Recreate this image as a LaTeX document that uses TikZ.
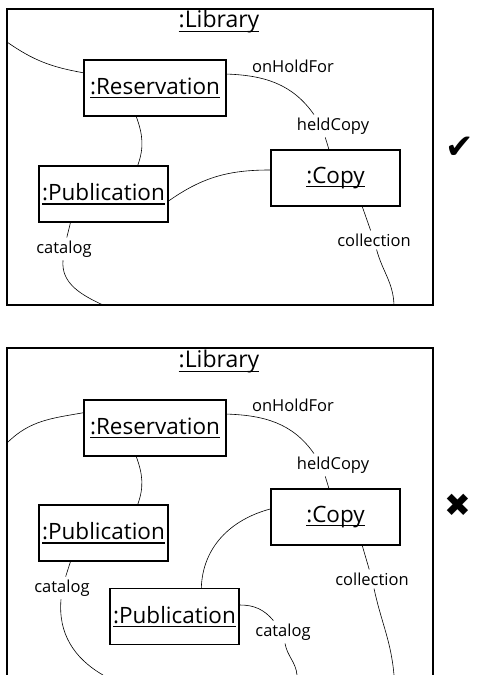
\documentclass[tikz,border=0pt]{standalone}
\usepackage{fontspec}
\setmainfont{Open Sans}
\newfontfamily\symfont{DejaVu Sans}
\usetikzlibrary{positioning, calc}

\newcommand{\objul}[1]{\setbox0=\hbox{#1}\rlap{\rule[-4pt]{\wd0}{1.4pt}}\box0}

\begin{document}
\begin{tikzpicture}[
  x=1pt, y=-1pt,
  frame/.style={line width=1.6pt},
  obj/.style={rectangle, draw, line width=1.5pt, minimum height=56pt, inner sep=0pt, font=\fontsize{22.5}{26}\selectfont},
  title/.style={font=\fontsize{23}{26}\selectfont, inner sep=0pt},
  role/.style={font=\fontsize{16.5}{19}\selectfont, inner sep=3pt},
  link/.style={line width=0.6pt}
]
  \useasboundingbox (0,0) rectangle (478,675);

  % Good model
  \draw[frame] (7,9) rectangle (433,305);
  \node[title] (lib1) at (219,22) {\objul{:Library}};

  \node[obj, minimum width=142pt] (res1) at (155,88) {\objul{:Reservation}};
  \node[obj, minimum width=129pt] (pub1) at (103.5,194) {\objul{:Publication}};
  \node[obj, minimum width=129pt] (copy1) at (335.5,178) {\objul{:Copy}};

  \node[role] (hold1) at (293,66) {onHoldFor};
  \node[role] (held1) at (333,126) {heldCopy};
  \node[role] (cat1) at (64,249) {catalog};
  \node[role] (coll1) at (374,240) {collection};

  \coordinate (e1) at (7,42);
  \coordinate (b1) at (103,305);
  \coordinate (b2) at (394,305);

  \node[font=\symfont\fontsize{34}{36}\selectfont] (ok) at (460,148) {✔};

  % Bad model
  \draw[frame] (7,675) -- (7,348) -- (433,348) -- (433,675);
  \node[title] (lib2) at (219,362) {\objul{:Library}};

  \node[obj, minimum width=142pt] (res2) at (155,428) {\objul{:Reservation}};
  \node[obj, minimum width=129pt] (pub2) at (103.5,533) {\objul{:Publication}};
  \node[obj, minimum width=129pt] (copy2) at (335.5,517) {\objul{:Copy}};
  \node[obj, minimum width=129pt] (pub3) at (174.5,616.5) {\objul{:Publication}};

  \node[role] (hold2) at (293,405) {onHoldFor};
  \node[role] (held2) at (333,465) {heldCopy};
  \node[role] (cat2) at (62,588) {catalog};
  \node[role] (cat3) at (283,632) {catalog};
  \node[role] (coll2) at (372,579) {collection};

  \coordinate (e2) at (7,443);
  \coordinate (b3) at (103,675);
  \coordinate (b4) at (297,675);
  \coordinate (b5) at (394,675);

  \node[font=\symfont\fontsize{32}{34}\selectfont] (bad) at (458,505) {✖};

  % Links, good model
  \draw[link] (e1) to[out=-35, in=170] (res1.168);
  \draw[link] (res1.11) to[out=-2, in=125] (held1.149);
  \draw[link] (held1.236) -- (copy1.103);
  \draw[link] (res1.237) to[out=-70, in=70] (pub1.40);
  \draw[link] (pub1.-6) to[out=35, in=180] (copy1.173);
  \draw[link] (pub1.221) -- (cat1);
  \draw[link] (cat1) to[out=-95, in=155] (b1);
  \draw[link] (copy1.-47) -- (coll1);
  \draw[link] (coll1) to[out=-75, in=92] (b2);

  % Links, bad model
  \draw[link] (e2) to[out=45, in=190] (res2.168);
  \draw[link] (res2.11) to[out=-2, in=125] (held2.149);
  \draw[link] (held2.236) -- (copy2.103);
  \draw[link] (res2.237) to[out=-70, in=70] (pub2.40);
  \draw[link] (pub2.221) -- (cat2);
  \draw[link] (cat2) to[out=-95, in=150] (b3);
  \draw[link] (pub3.47) to[out=88, in=195] (copy2.173);
  \draw[link] (pub3.10) to[out=0, in=130] (cat3);
  \draw[link] (cat3) to[out=-80, in=95] (b4);
  \draw[link] (copy2.-47) -- (coll2);
  \draw[link] (coll2) to[out=-78, in=95] (b5);
\end{tikzpicture}
\end{document}
